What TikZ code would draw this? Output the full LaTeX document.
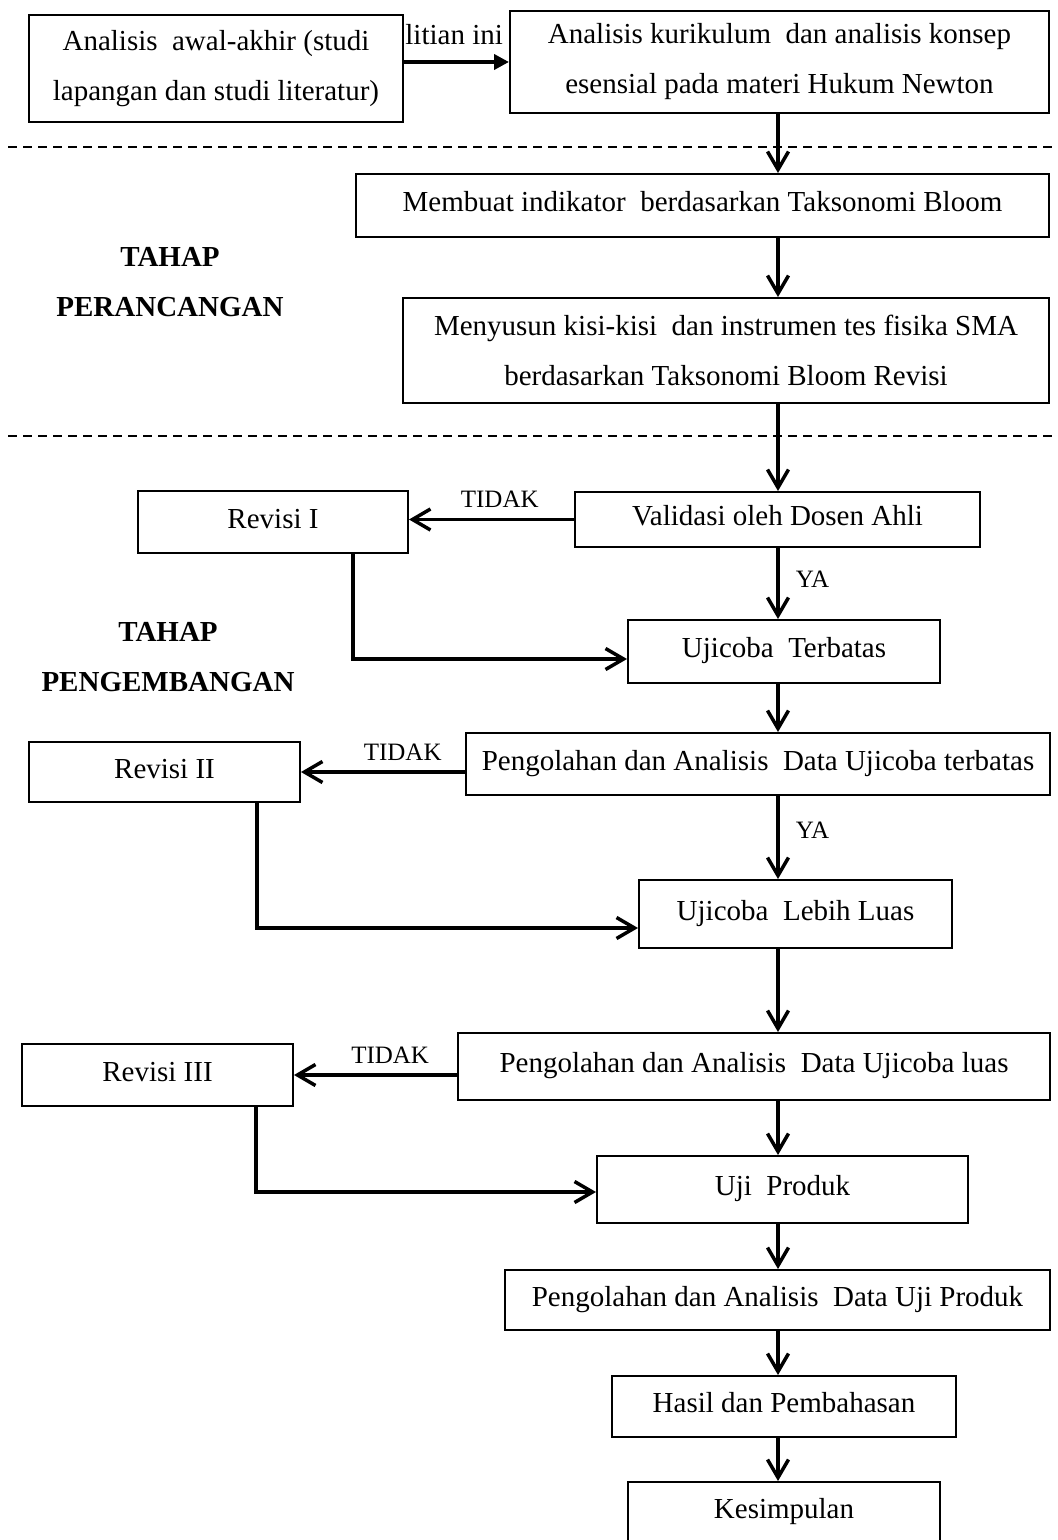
\documentclass[tikz,border=0pt]{standalone}
\usepackage{fontspec}
\setmainfont{Liberation Serif}
\usetikzlibrary{arrows.meta,calc}
\tikzset{
  stepbox/.style={draw,line width=1pt,inner sep=0pt,align=center,
    font=\fontsize{14.5}{25}\selectfont},
  linebox/.style={stepbox,text height=10pt,text depth=4pt},
  flow/.style={line width=1.75pt,-{Straight Barb[length=9pt,width=10.5pt]}},
  answer/.style={inner sep=0pt,font=\fontsize{12.5}{15}\selectfont},
  stage/.style={align=center,inner sep=0pt,font=\fontsize{14.5}{25}\selectfont\bfseries},
  divider/.style={line width=0.8pt,dash pattern=on 4.5pt off 3pt},
}

\begin{document}
\begin{tikzpicture}[x=0.5pt,y=-0.5pt]
\useasboundingbox (0,0) rectangle (1057,1540);

% tahap pendefinisian
\node[inner sep=0pt,anchor=west,font=\fontsize{14.5}{25}\selectfont] (sisa) at (405,34.5) {litian ini};
\node[stepbox,minimum width=187pt,minimum height=53.5pt,fill=white] (awal) at (216,68.5)
  {Analisis\ \ awal-akhir (studi\\lapangan dan studi literatur)};
\node[stepbox,minimum width=269.5pt,minimum height=51pt] (kurikulum) at (779.5,62)
  {Analisis kurikulum\ \ dan analisis konsep\\esensial pada materi Hukum Newton};

\draw[divider] (8,147) -- (1057,147);
\draw[divider] (8,436) -- (1057,436);

% tahap perancangan
\node[stage] (rancang) at (170,282) {TAHAP\\PERANCANGAN};
\node[linebox,minimum width=346.5pt,minimum height=31.5pt] (indikator) at (702.5,205.5)
  {Membuat indikator\ \ berdasarkan Taksonomi Bloom};
\node[stepbox,minimum width=323pt,minimum height=52.5pt] (kisi) at (726,350.5)
  {Menyusun kisi-kisi\ \ dan instrumen tes fisika SMA\\berdasarkan Taksonomi Bloom Revisi};

% tahap pengembangan
\node[stage] (kembang) at (168,657.5) {TAHAP\\PENGEMBANGAN};
\node[linebox,minimum width=202.5pt,minimum height=27.5pt] (validasi) at (777.5,519.5) {Validasi oleh Dosen Ahli};
\node[linebox,minimum width=135pt,minimum height=31pt] (revI) at (273,522) {Revisi I};
\node[linebox,minimum width=156pt,minimum height=31.5pt] (ujiT) at (784,651.5) {Ujicoba\ \ Terbatas};
\node[linebox,minimum width=292pt,minimum height=31pt] (olahT) at (758,764)
  {Pengolahan dan Analisis\ \ Data Ujicoba terbatas};
\node[linebox,minimum width=135.5pt,minimum height=30pt] (revII) at (164.5,772) {Revisi II};
\node[linebox,minimum width=156.5pt,minimum height=34pt] (ujiL) at (795.5,914) {Ujicoba\ \ Lebih Luas};
\node[linebox,minimum width=296pt,minimum height=33.5pt] (olahL) at (754,1066.5)
  {Pengolahan dan Analisis\ \ Data Ujicoba luas};
\node[linebox,minimum width=135.5pt,minimum height=31pt] (revIII) at (157.5,1075) {Revisi III};
\node[linebox,minimum width=185.5pt,minimum height=33.5pt] (ujiP) at (782.5,1189.5) {Uji\ \ Produk};
\node[linebox,minimum width=272.5pt,minimum height=30pt] (olahP) at (777.5,1300)
  {Pengolahan dan Analisis\ \ Data Uji Produk};
\node[linebox,minimum width=172pt,minimum height=30.5pt] (hasil) at (784,1406.5) {Hasil dan Pembahasan};
\node[linebox,minimum width=156pt,minimum height=30pt] (simpul) at (784,1512) {Kesimpulan};

\coordinate (spine) at (778,0);
\coordinate (lupI) at (353,659);
\coordinate (lupII) at (257,928);
\coordinate (lupIII) at (256,1192);

\draw[line width=2pt,-{Triangle[length=7.5pt,width=7.5pt]}] (awal.east |- kurikulum.west) -- (kurikulum.west);
\draw[flow] (kurikulum.south -| spine) -- (indikator.north -| spine);
\draw[flow] (indikator.south -| spine) -- (kisi.north -| spine);
\draw[flow] (kisi.south -| spine) -- (validasi.north -| spine);
\draw[flow] (validasi.south -| spine) -- node[answer,right=8pt,pos=0.44] {YA} (ujiT.north -| spine);
\draw[flow] (validasi.west) -- node[answer,above=5pt,pos=0.45] {TIDAK} (validasi.west -| revI.east);
\draw[flow] (revI.south -| lupI) |- (ujiT.west |- lupI);
\draw[flow] (ujiT.south -| spine) -- (olahT.north -| spine);
\draw[flow] (olahT.south -| spine) -- node[answer,right=8pt,pos=0.41] {YA} (ujiL.north -| spine);
\draw[flow] (olahT.west |- revII.east) -- node[answer,above=5pt,pos=0.38] {TIDAK} (revII.east);
\draw[flow] (revII.south -| lupII) |- (ujiL.west |- lupII);
\draw[flow] (ujiL.south -| spine) -- (olahL.north -| spine);
\draw[flow] (olahL.west |- revIII.east) -- node[answer,above=5pt,pos=0.41] {TIDAK} (revIII.east);
\draw[flow] (revIII.south -| lupIII) |- (ujiP.west |- lupIII);
\draw[flow] (olahL.south -| spine) -- (ujiP.north -| spine);
\draw[flow] (ujiP.south -| spine) -- (olahP.north -| spine);
\draw[flow] (olahP.south -| spine) -- (hasil.north -| spine);
\draw[flow] (hasil.south -| spine) -- (simpul.north -| spine);
\end{tikzpicture}
\end{document}
